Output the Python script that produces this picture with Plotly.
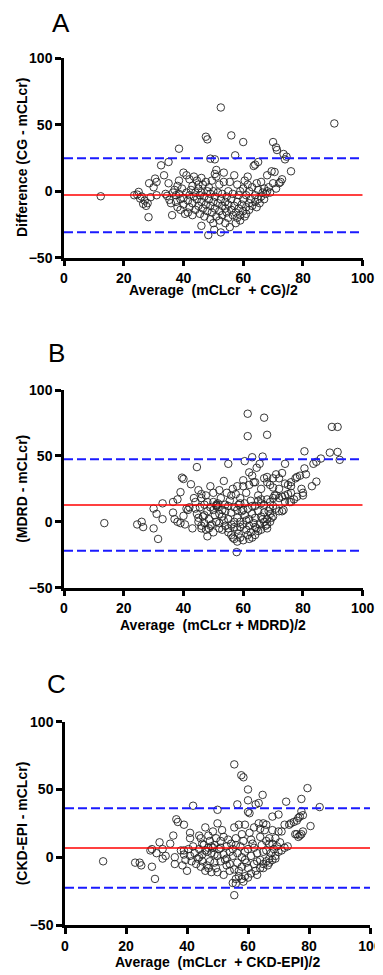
import plotly.graph_objects as go

# page is 383x975; the browser adds an 8px body margin, so the figure is drawn 8px in
PAGE_W, PAGE_H, OFF = 383, 975, 8
W, H = PAGE_W - OFF, PAGE_H - OFF

# ---------------- data ----------------
a_pairs = [
    (12.3, -3.8), (23.5, -3), (24.5, -2.5), (25, -0.5), (25.5, -5.5), (26, -4), (26.5, -9.5), (27, -7),
    (27.5, -11), (28, -9), (28.3, -19.5), (28.5, 6), (29, -4.5), (30, 3), (30.5, 9.5), (31, -3), (31, 7),
    (32.5, 19.5), (33.5, 12), (34, -2), (34.5, -3.5), (35, 22), (35, 6), (35.3, -6.5), (35.8, -9), (36.2, -18),
    (36.5, -1), (37, 1), (37.5, -3), (37.5, -8), (38, 4), (38, -12), (38.5, 32), (38.5, 8), (38.5, -2), (39, -6),
    (39, -14), (39.5, 2), (40, 14), (40, -5), (40, -10), (40.5, -17), (41, 12), (41, -1), (41.5, -7), (41.5, -16),
    (42, 9), (42, -3), (42, -12), (42.5, 1), (43, 4), (43, -9), (43, -18), (43.5, 11), (43.5, -4), (44, -1),
    (44, -14), (44.5, 8), (44.5, -6), (45, 2), (45, -11), (45.5, -3), (45.5, -17), (45, 5), (46, 10), (46, -1),
    (46, -8), (46, -26), (46.5, -13), (46.5, 5), (47, -4), (47, -19), (47.5, 41), (47.5, 7), (47.5, -10),
    (48, 39), (48, 0), (48, -15), (48.3, -33), (48.5, -6), (48.5, 3), (49, 24.5), (49, -2), (49, -11), (49, -21),
    (49.5, 8), (49.5, -16), (50, -8), (50, 0), (50, -24), (50.3, -29), (50.5, 24), (50.5, 13), (50.5, -4),
    (50.5, -13), (51, 16), (51, 11), (51, -19), (51.5, -1), (51.5, -9), (52, 5), (52, -15), (52, -22),
    (52.5, 63), (52.5, -31), (52.5, -6), (53, -2), (53, -11), (53, -18), (53.5, 7), (53.5, 14), (54, -8),
    (54, -13), (54, -24), (54.5, -16), (54.5, -4), (55, 0), (55, -10), (55, -20), (55.5, -27), (55.5, 7),
    (56, 42), (56, -14), (56, -6), (56.5, -18), (56.5, -2), (57, -11), (57, 12), (57.3, 27), (57.5, -24),
    (57.5, -16), (58, -8), (58, 5), (58, -20), (58.5, -13), (58.5, -3), (59, -18), (59, 0), (59, -22),
    (59.5, -10), (60, 37), (60, -15), (60, 2), (60, -6), (60.5, -19), (60.5, 8), (61, -12), (61, -3),
    (61, -17), (61.5, 5), (61.5, 11), (62, -9), (62, -14), (62, 0), (62.5, -6), (63, -11), (63, 3),
    (63.5, 19), (64, 20), (64, -8), (64, -3), (64.5, -12), (64.5, 6), (65, 22), (65, -6), (65, 1),
    (65.5, -9), (66, -4), (66, 7), (66.5, -1), (67, -6), (67, 2), (67.5, -2), (68, 0), (68, 12), (68.5, 3),
    (69, -1), (69.5, 15), (70, 37), (70, 6), (70.5, 14.5), (71, 33), (71, 2), (71.3, 31), (72, 6), (72.5, 7),
    (73, 9), (73.5, 28), (74, 24), (74.5, 26), (76, 15), (90.5, 51),
]

b_pairs = [
    (13.5, -1), (24.5, -2), (26, 0), (26.5, -4), (30, -5), (30, 10), (31, 6), (31.5, -13), (33, 2), (33, 14),
    (36.5, 15), (36.5, 7), (37, 2), (38, 17), (38, 0), (39, 22.5), (39.5, 33.5), (39, -1), (40, 32.5),
    (40, 4.5), (40.5, -2), (41, 10), (41.5, 9), (42, 11), (42.5, 28.5), (43, -5), (43.5, 18), (44, 15),
    (44.5, 41.5), (44.5, 6), (45, 0), (45, 24), (45.5, 11), (46, -3), (46, 18), (46, 21), (46.5, 4), (47, -1),
    (47, 13), (47.5, -6), (47.5, 20), (48, -11), (48, 8), (48.5, 2), (48.5, -5), (49, 27), (49, 11),
    (49.5, -2), (50, 15), (50, -8), (50.5, 5), (51, 13), (51, 12), (51.5, 11), (51.5, 14), (51.2, 12.5),
    (52, 6), (52, -1), (52, 24), (52.5, 18), (53, 9), (53, -6), (53.5, 31), (53.5, 1), (54, 13), (54, -3),
    (54.5, 22), (55, 44), (55, 2), (55, -8), (55.5, 16), (56, 7), (56, -2), (56.5, 25), (56.5, -12), (57, 11),
    (57, -13), (57, -4), (57.5, 21), (57.8, -23), (58, -15), (58, 27), (58, 3), (58, -6), (58.5, 13),
    (58.5, -9), (59, 18), (59, 0), (59, -4), (59.5, 8), (60, 31.5), (60, 27), (60, -14), (60, -2), (60.5, 46),
    (60.5, 14), (60.5, 5), (61, -6), (61, 22), (61.5, 82), (61.5, 65), (61.5, -10), (61.5, 10), (62, 37.5),
    (62, 2), (62, -3), (62.5, 16), (62.5, -8), (63, 49), (63, 35), (63, -12), (63, 6), (63.5, 30), (63.5, -1),
    (64, 12), (64, -10), (64, 3), (64.5, 41), (64.5, -5), (65, 20), (65, 8), (65, -7), (65.5, 44), (65.5, -2),
    (66, 25), (66, -6), (66, 14), (66.5, 49.5), (66.5, 2), (67, 79), (67, 33), (67, 13), (67, 0), (67.5, -3),
    (68, 66), (68, 34), (68, 30), (68, 17), (68, 2), (68, -2), (68.5, 8), (69, 28), (69, 15), (69, 10),
    (69, 6), (69.5, 3), (70, 33), (70, 18), (70, 12), (70, 4), (70.5, 20), (71, 36), (71, 20), (72, 33),
    (72, 18), (72, 8), (73, 37), (73, 19), (73, 8), (73.5, 9), (74, 44), (74, 29), (74, 20), (75, 28),
    (75.5, 15), (76, 27), (76, 30), (76, 15), (77, 17), (77.5, 33), (78, 34), (78, 19), (79, 35), (79.5, 25),
    (80, 22), (80, 20), (80.5, 40.5), (80.5, 53.5), (81, 36), (83, 27), (83.5, 44), (84.5, 45.5),
    (84.5, 30.5), (86, 48), (89, 52.5), (89.7, 72), (91.6, 72), (91.6, 53), (92.3, 47),
    (44, 10), (45, 3), (46, -5), (47, 5), (48, 15), (49, -3), (50, 9), (50, 22), (51, 0), (52, -5), (53, 4),
    (54, 8), (55, -5), (55, 12), (56, -10), (56, 20), (57, 0), (58, 9), (59, 14), (59, -12), (60, 9), (61, 1),
    (62, -13), (63, 12), (64, -4), (65, 16), (66, 4), (67, 7), (68, -5), (69, 0), (64, 30), (62, 28), (66, 17),
    (70, 26), (71, 10), (72, 25), (74, 15), (75, 21), (76, 22),
]

c_pairs = [
    (12.5, -3), (23, -4), (24.5, -4), (25, -6), (28, 5), (28.5, 6), (28.5, -7), (29.5, -16), (30, 3), (31, 11),
    (32, 6), (32, -1), (33, 1), (34.5, 10), (35.5, 16), (36, -5), (36, 0), (36.5, 28), (37, 26), (38, 5),
    (38.5, -6), (39, 24), (39, 2), (39, 5), (39.5, -2), (40, -10), (40.5, 6), (41, 18), (41, 14), (41, 1),
    (41.5, -3), (42, 38), (42, 8), (42.5, 3), (43, -5), (43.5, -1), (44, 16), (44, 6), (44.5, 14), (44.5, -7),
    (45, 2), (45, -3), (45.5, 9), (46, -10), (46, 22), (46.5, 4), (46.5, -6), (47, 16), (47, 7), (47.5, -3),
    (47.5, 12), (48, 8), (48, -11), (48.5, 7), (48.5, 19), (49, 2), (49, 9), (49.5, -8), (49.5, 14), (50, 35),
    (50, 25), (50, -11), (50.5, 6), (51, 12), (51, -3), (51.5, 20), (52, 2), (52, -13), (52.5, -2), (53, -1),
    (53, 8), (53.5, 13), (54, -5), (54, 4), (54.5, 10), (55, -19), (55, 1), (55.5, 68.5), (55.5, -28),
    (55.5, -9), (55.5, 22), (56, -16), (56, -19.5), (56, 14), (56.5, 39), (56.5, 3), (56.5, -4), (57, 24),
    (57, -10), (57.5, 8), (57.8, 60.5), (58, -16), (58, 0), (58, -7), (58.5, 59), (58.5, -18), (58.5, 12),
    (59, 24), (59, -14), (59, 4), (59.5, -4), (60, 50), (60, 42), (60, 33.5), (60, -8), (60, 6), (60.5, 32.5),
    (60.5, 18), (61, -12), (61, 1), (61.5, 10), (62, -5), (62, 22), (62.5, 39), (62.5, -10), (63, 3),
    (63, -13), (63.5, 40), (63.5, 25), (64, 15), (64, -8), (64, -2), (64.5, 9), (64.8, 46), (65, 25),
    (65, -5), (65, 4), (65.5, 20), (66, 24), (66, -3), (66, 12), (66.5, -6), (67, 10), (67, -1), (67, 14),
    (67.5, 3), (68, 30), (68, 20), (68, -2), (68.5, 6), (69, 1), (69, 14), (69.5, 8), (70, 31.5), (70, 19),
    (70, 4), (70.5, 11), (71, 19), (71, 5), (72, 24), (72, 7), (72.5, 41), (73, 8), (73.5, 24), (74, 25),
    (75, 26), (75.5, 17), (76, 27), (76, 17), (76.5, 29), (76.5, 15), (77, 30), (77, 16), (77.5, 34),
    (77.5, 43), (77.5, 17), (78, 31), (78, 19), (79.5, 51), (80.5, 23), (83.5, 37),
    (44, 0), (45, 10), (46, 5), (47, -8), (48, 3), (49, -4), (50, 1), (51, 7), (52, 15), (53, -6), (54, -10),
    (55, 6), (56, 9), (57, -14), (58, 17), (59, -2), (60, -15), (61, 13), (62, 7), (63, -3), (64, 21),
    (65, -8), (66, 5), (67, -4), (68, 10), (69, -1),
]

panel_letters = ["A", "B", "C"]
bias = [-2.8, 12.7, 6.8]
loa_upper = [24.8, 47.4, 36.1]
loa_lower = [-30.9, -21.9, -22.5]
y_titles = ["Difference (CG - mCLcr)", "(MDRD - mCLcr)", "(CKD-EPI - mCLcr)"]
x_titles = ["Average  (mCLcr  + CG)/2", "Average  (mCLcr + MDRD)/2", "Average  (mCLcr  + CKD-EPI)/2"]
x_ticks = [0, 20, 40, 60, 80, 100]
y_ticks = [-50, 0, 50, 100]

# ---------------- layout geometry (page pixels) ----------------
# (left, right, top, bottom) of each plot area
boxes = [(64, 362.7, 58.3, 257.7), (64, 362.7, 390, 587.7), (65, 370, 721.7, 925)]
letter_pos = [(61, 23), (57, 353), (57, 684)]
xtitle_y = [290, 625, 962]
ytitle_x = [22, 22, 22]


def px(v):
    return (v - OFF) / W


def py(v):
    return 1 - (v - OFF) / H


FONT = "Liberation Sans"
fig = go.Figure()
layout = dict(template="none", width=W, height=H, margin=dict(l=0, r=0, t=0, b=0, autoexpand=False),
              paper_bgcolor="white", plot_bgcolor="white", showlegend=False)
shapes, annotations = [], []

for i, pairs in enumerate([a_pairs, b_pairs, c_pairs]):
    xs = [p[0] for p in pairs]
    ys = [p[1] for p in pairs]
    xa = "x" if i == 0 else f"x{i+1}"
    ya = "y" if i == 0 else f"y{i+1}"
    fig.add_trace(go.Scatter(x=xs, y=ys, mode="markers", xaxis=xa, yaxis=ya,
                             marker=dict(symbol="circle-open", size=7.5, color="#222222",
                                         line=dict(width=0.9, color="#222222")),
                             cliponaxis=False))
    l, r, t, b = boxes[i]
    axfont = dict(family=FONT, size=14, color="black", weight="bold")
    layout["xaxis" if i == 0 else f"xaxis{i+1}"] = dict(
        domain=[px(l), px(r)], range=[0, 100], anchor=ya, tickvals=x_ticks, automargin=False,
        showline=True, linewidth=2.5, linecolor="black", ticks="outside", ticklen=6, tickwidth=2.5,
        tickcolor="black", showgrid=False, zeroline=False, tickfont=axfont)
    layout["yaxis" if i == 0 else f"yaxis{i+1}"] = dict(
        domain=[py(b), py(t)], range=[-50, 100], anchor=xa, tickvals=y_ticks, automargin=False,
        showline=True, linewidth=2.5, linecolor="black", ticks="outside", ticklen=6, tickwidth=2.5,
        tickcolor="black", showgrid=False, zeroline=False, tickfont=axfont)
    shapes.append(dict(type="line", xref=xa, yref=ya, x0=0, x1=100, y0=bias[i], y1=bias[i],
                       line=dict(color="#ff0000", width=1.5)))
    for v in (loa_upper[i], loa_lower[i]):
        shapes.append(dict(type="line", xref=xa, yref=ya, x0=0, x1=100, y0=v, y1=v,
                           line=dict(color="#1a1aff", width=2, dash="9px,4px")))
    annotations.append(dict(text=panel_letters[i], xref="paper", yref="paper",
                            x=px(letter_pos[i][0]), y=py(letter_pos[i][1]),
                            xanchor="center", yanchor="middle", showarrow=False,
                            font=dict(family=FONT, size=26, color="black")))
    annotations.append(dict(text=x_titles[i], xref="paper", yref="paper",
                            x=px((l + r) / 2), y=py(xtitle_y[i]),
                            xanchor="center", yanchor="middle", showarrow=False,
                            font=dict(family=FONT, size=14, color="black", weight="bold")))
    annotations.append(dict(text=y_titles[i], xref="paper", yref="paper",
                            x=px(ytitle_x[i]), y=py((t + b) / 2), textangle=-90,
                            xanchor="center", yanchor="middle", showarrow=False,
                            font=dict(family=FONT, size=14, color="black", weight="bold")))

layout["shapes"] = shapes
layout["annotations"] = annotations
fig.update_layout(**layout)
fig.write_html("out.html")
